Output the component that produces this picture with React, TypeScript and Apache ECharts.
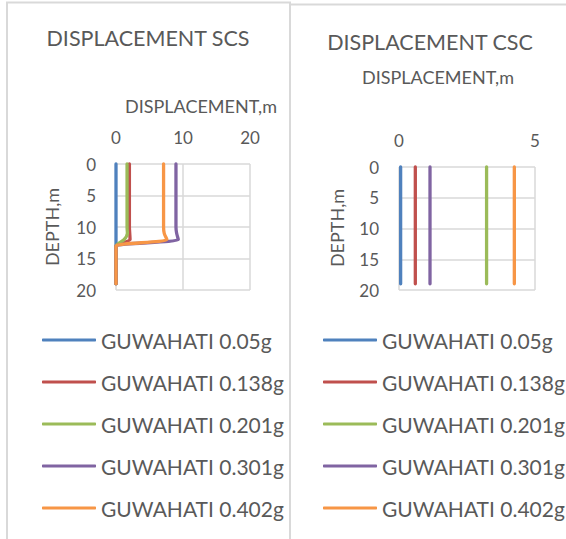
import React, { useEffect, useRef } from "react";
import * as echarts from "echarts";

const depths = [0, 1, 2, 3, 4, 5, 6, 7, 8, 9, 10, 11, 12, 13, 14, 15, 16, 17, 18, 19];
const seriesNames = ["GUWAHATI 0.05g", "GUWAHATI 0.138g", "GUWAHATI 0.201g", "GUWAHATI 0.301g", "GUWAHATI 0.402g"];
const colors = ["#4F81BD", "#C0504D", "#9BBB59", "#8064A2", "#F79646"];

// SCS displacement (m) per depth
const scs005 = [0, 0, 0, 0, 0, 0, 0, 0, 0, 0, 0, 0, 0, 0, 0, 0, 0, 0, 0, 0];
const scs0138 = [2.0, 2.0, 2.0, 2.0, 2.0, 2.0, 2.0, 2.0, 2.0, 2.0, 2.0, 2.05, 2.1, 0, 0, 0, 0, 0, 0, 0];
const scs0201 = [1.65, 1.65, 1.65, 1.65, 1.65, 1.65, 1.65, 1.65, 1.65, 1.65, 1.65, 1.7, 1.2, 0, 0, 0, 0, 0, 0, 0];
const scs0301 = [8.95, 8.95, 8.95, 8.95, 8.95, 8.95, 8.95, 8.95, 8.95, 8.95, 8.95, 9.05, 9.3, 0, 0, 0, 0, 0, 0, 0];
const scs0402 = [7.1, 7.1, 7.1, 7.1, 7.1, 7.1, 7.1, 7.1, 7.1, 7.1, 7.1, 7.2, 7.6, 0, 0, 0, 0, 0, 0, 0];

// CSC displacement (m) per depth
const csc005 = [0.06, 0.06, 0.06, 0.06, 0.06, 0.06, 0.06, 0.06, 0.06, 0.06, 0.06, 0.06, 0.06, 0.06, 0.06, 0.06, 0.06, 0.06, 0.06, 0.06];
const csc0138 = [0.6, 0.6, 0.6, 0.6, 0.6, 0.6, 0.6, 0.6, 0.6, 0.6, 0.6, 0.6, 0.6, 0.6, 0.6, 0.6, 0.6, 0.6, 0.6, 0.6];
const csc0201 = [3.22, 3.22, 3.22, 3.22, 3.22, 3.22, 3.22, 3.22, 3.22, 3.22, 3.22, 3.22, 3.22, 3.22, 3.22, 3.22, 3.22, 3.22, 3.22, 3.22];
const csc0301 = [1.14, 1.14, 1.14, 1.14, 1.14, 1.14, 1.14, 1.14, 1.14, 1.14, 1.14, 1.14, 1.14, 1.14, 1.14, 1.14, 1.14, 1.14, 1.14, 1.14];
const csc0402 = [4.24, 4.24, 4.24, 4.24, 4.24, 4.24, 4.24, 4.24, 4.24, 4.24, 4.24, 4.24, 4.24, 4.24, 4.24, 4.24, 4.24, 4.24, 4.24, 4.24];

const scsSeries = [scs005, scs0138, scs0201, scs0301, scs0402];
const cscSeries = [csc005, csc0138, csc0201, csc0301, csc0402];

const FONT = "Lato";
const TXT = "#595959";
const GRID = "#D9D9D9";

export default function App() {
  const ref = useRef<HTMLDivElement>(null);
  useEffect(() => {
    if (!ref.current) return;
    const chart = echarts.init(ref.current, undefined, { renderer: "svg" });
    const mk = (vals: number[][], idx: number) =>
      vals.map((v, i) => ({
        name: seriesNames[i],
        type: "line",
        xAxisIndex: idx,
        yAxisIndex: idx,
        data: v.map((x, k) => [x, depths[k]]),
        showSymbol: false,
        symbol: "none",
        smooth: 0.25,
        clip: false,
        lineStyle: { color: colors[i], width: 3.3, cap: "round" },
        itemStyle: { color: colors[i] },
      }));
    const axisLabel = { color: TXT, fontFamily: FONT, fontSize: 17, margin: 18 };
    const split = { show: true, lineStyle: { color: GRID, width: 1.5 } };
    const legendBase = {
      orient: "vertical",
      icon: "roundRect",
      padding: 0,
      itemWidth: 54,
      itemHeight: 3,
      itemGap: 18,
      textStyle: { color: TXT, fontFamily: FONT, fontSize: 21, lineHeight: 24 },
      data: seriesNames,
      top: 328,
    };
    const txt = (text: string, x: number, y: number, size: number, rot = 0) => ({
      type: "text",
      x,
      y,
      rotation: rot,
      style: { text, fill: TXT, font: `${size}px ${FONT}`, align: "center", verticalAlign: "middle" },
    });
    chart.setOption({
      animation: false,
      backgroundColor: "#ffffff",
      grid: [
        { left: 116, top: 164, width: 134, height: 126 },
        { left: 399, top: 167, width: 136, height: 123 },
      ],
      xAxis: [
        { type: "value", gridIndex: 0, position: "top", min: 0, max: 20, interval: 10, axisLine: { show: false }, axisTick: { show: false }, axisLabel, splitLine: split },
        { type: "value", gridIndex: 1, position: "top", min: 0, max: 5, interval: 5, axisLine: { show: false }, axisTick: { show: false }, axisLabel, splitLine: split },
      ],
      yAxis: [
        { type: "value", gridIndex: 0, inverse: true, min: 0, max: 20, interval: 5, axisLine: { show: false }, axisTick: { show: false }, axisLabel: { ...axisLabel, margin: 20 }, splitLine: split },
        { type: "value", gridIndex: 1, inverse: true, min: 0, max: 20, interval: 5, axisLine: { show: false }, axisTick: { show: false }, axisLabel: { ...axisLabel, margin: 20 }, splitLine: split },
      ],
      legend: [
        { ...legendBase, left: 42 },
        { ...legendBase, left: 323 },
      ],
      graphic: [
        { type: "rect", shape: { x: 7, y: 2.5, width: 283, height: 600 }, style: { fill: "none", stroke: GRID, lineWidth: 2 } },
        { type: "line", shape: { x1: 291, y1: 4.5, x2: 580, y2: 4.5 }, style: { stroke: GRID, lineWidth: 2 } },
        txt("DISPLACEMENT SCS", 148, 38, 21.5),
        txt("DISPLACEMENT CSC", 430, 42, 21.5),
        txt("DISPLACEMENT,m", 201, 106, 18),
        txt("DISPLACEMENT,m", 438, 77, 18),
        txt("DEPTH,m", 52, 227, 18, Math.PI / 2),
        txt("DEPTH,m", 337, 228, 18, Math.PI / 2),
      ],
      series: [...mk(scsSeries, 0), ...mk(cscSeries, 1)],
    });
    return () => chart.dispose();
  }, []);
  return <div ref={ref} style={{ position: "fixed", left: 0, top: 0, width: 566, height: 539 }} />;
}
